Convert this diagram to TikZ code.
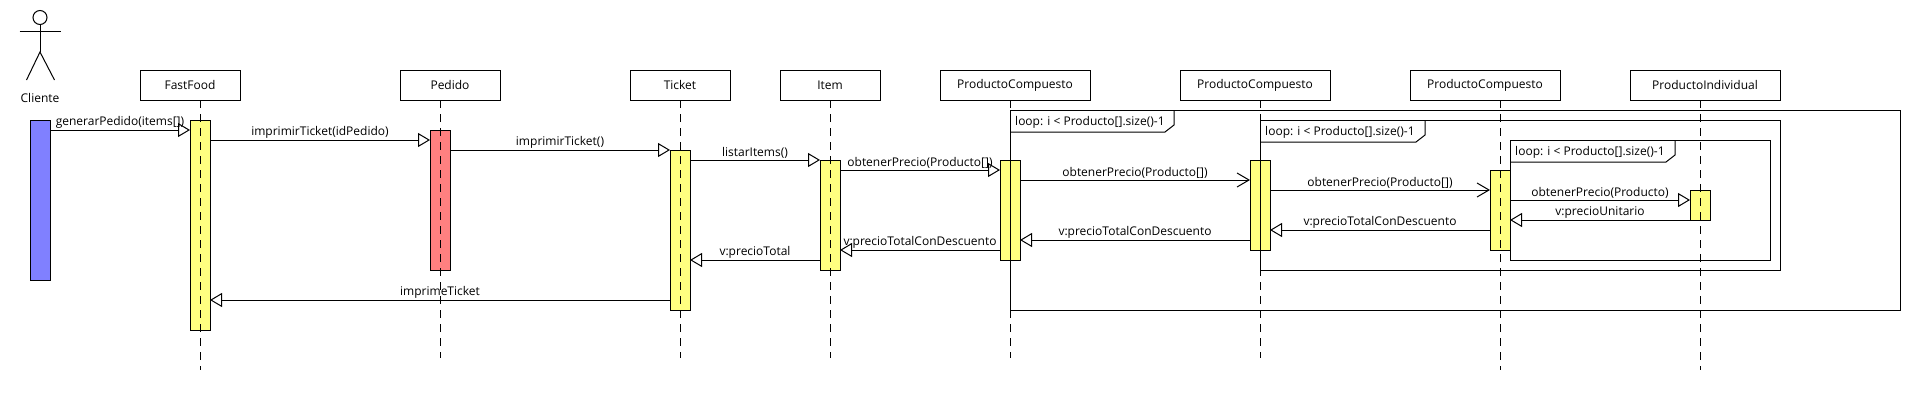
\documentclass[tikz,border=0pt]{standalone}
\usepackage{fontspec}
\setmainfont{Open Sans}
\usetikzlibrary{arrows.meta}
\definecolor{actyellow}{HTML}{FFFF80}
\definecolor{actblue}{HTML}{8080FF}
\definecolor{actred}{HTML}{FF8080}
\tikzset{
  lifebox/.style={draw, line width=1pt, minimum height=30pt, inner sep=0pt, outer sep=0pt, font=\fontsize{12}{14}\selectfont},
  activation/.style={draw, line width=1pt, fill=actyellow, minimum width=20pt, inner sep=0pt, outer sep=0pt, anchor=north},
  lifeline/.style={line width=1pt, dash pattern=on 8pt off 6pt},
  loopframe/.style={draw, line width=1pt, inner sep=0pt, outer sep=0pt},
  looptext/.style={anchor=west, inner sep=0pt, font=\fontsize{12}{14}\selectfont},
  msg/.style={line width=1pt, -{Triangle[open, fill=white, length=12pt, width=14pt]}},
  msgopen/.style={line width=1pt, -{Straight Barb[length=12pt, width=14pt]}},
  msglabel/.style={midway, above, inner sep=0pt, yshift=1.5pt, font=\fontsize{12}{14}\selectfont}
}
\begin{document}
\begin{tikzpicture}[x=1pt,y=-1pt]
    \useasboundingbox (0,0) rectangle (1910,400);

    %actor
    \draw[line width=1pt] (40,17.5) circle [radius=7];
    \draw[line width=1pt] (19.5,31) -- (61,31);
    \draw[line width=1pt] (40,24.5) -- (40,52);
    \draw[line width=1pt] (26.5,80) -- (40,52) -- (54.5,80);
    \node[font=\fontsize{12}{14}\selectfont, inner sep=0pt] (cliente) at (40,98) {Cliente};

    %lifeline heads
    \node[lifebox, minimum width=100pt] (fastfood) at (190,85) {FastFood};
    \node[lifebox, minimum width=100pt] (pedido) at (450,85) {Pedido};
    \node[lifebox, minimum width=100pt] (ticket) at (680,85) {Ticket};
    \node[lifebox, minimum width=100pt] (item) at (830,85) {Item};
    \node[lifebox, minimum width=150pt] (compuestoA) at (1015,85) {ProductoCompuesto};
    \node[lifebox, minimum width=150pt] (compuestoB) at (1255,85) {ProductoCompuesto};
    \node[lifebox, minimum width=150pt] (compuestoC) at (1485,85) {ProductoCompuesto};
    \node[lifebox, minimum width=150pt] (individual) at (1705,85) {ProductoIndividual};

    %activations
    \node[activation, fill=actblue, minimum height=160pt] (actcliente) at (40,120) {};
    \node[activation, minimum height=210pt] (actfastfood) at (200,120) {};
    \node[activation, fill=actred, minimum height=140pt] (actpedido) at (440,130) {};
    \node[activation, minimum height=160pt] (actticket) at (680,150) {};
    \node[activation, minimum height=110pt] (actitem) at (830,160) {};
    \node[activation, minimum height=100pt] (actcompuestoA) at (1010,160) {};
    \node[activation, minimum height=90pt] (actcompuestoB) at (1260,160) {};
    \node[activation, minimum height=80pt] (actcompuestoC) at (1500,170) {};
    \node[activation, minimum height=30pt] (actindividual) at (1700,190) {};

    %lifelines
    \coordinate (endfastfood) at (200,370);
    \coordinate (endpedido) at (440,358);
    \coordinate (endticket) at (680,358);
    \coordinate (enditem) at (830,358);
    \coordinate (endcompuestoA) at (1010,358);
    \coordinate (endcompuestoB) at (1260,358);
    \coordinate (endcompuestoC) at (1500,370);
    \coordinate (endindividual) at (1700,370);
    \draw[lifeline] (actfastfood |- fastfood.south) -- (endfastfood);
    \draw[lifeline] (actpedido |- pedido.south) -- (endpedido);
    \draw[lifeline] (actticket |- ticket.south) -- (endticket);
    \draw[lifeline] (actitem |- item.south) -- (enditem);
    \draw[lifeline] (actcompuestoA |- compuestoA.south) -- (endcompuestoA);
    \draw[lifeline] (actcompuestoB |- compuestoB.south) -- (endcompuestoB);
    \draw[lifeline] (actcompuestoC |- compuestoC.south) -- (endcompuestoC);
    \draw[lifeline] (actindividual |- individual.south) -- (endindividual);

    %loops
    \node[loopframe, anchor=north west, minimum width=890pt, minimum height=200pt] (loopA) at (1010,110) {};
    \draw[line width=1pt] (1174,110) -- (1174,125) -- (1165,132) -- (1010,132);
    \node[looptext] (looptextA) at (1015,122) {loop: i < Producto[].size()-1};

    \node[loopframe, anchor=north west, minimum width=520pt, minimum height=150pt] (loopB) at (1260,120) {};
    \draw[line width=1pt] (1425,120) -- (1425,135) -- (1416,142) -- (1260,142);
    \node[looptext] (looptextB) at (1265,132) {loop: i < Producto[].size()-1};

    \node[loopframe, anchor=north west, minimum width=260pt, minimum height=120pt] (loopC) at (1510,140) {};
    \draw[line width=1pt] (1675,140) -- (1675,155) -- (1666,162) -- (1510,162);
    \node[looptext] (looptextC) at (1515,152) {loop: i < Producto[].size()-1};

    %calls
    \draw[msg] (actcliente.east |- 0,130) -- (actfastfood.west |- 0,130) node[msglabel] (labelgenerar) {generarPedido(items[])};
    \draw[msg] (actfastfood.east |- 0,140) -- (actpedido.west |- 0,140) node[msglabel] (labelimprimirA) {imprimirTicket(idPedido)};
    \draw[msg] (actpedido.east |- 0,150) -- (actticket.west |- 0,150) node[msglabel] (labelimprimirB) {imprimirTicket()};
    \draw[msg] (actticket.east |- 0,160) -- (actitem.west |- 0,160) node[msglabel] (labellistar) {listarItems()};
    \draw[msg] (actitem.east |- 0,170) -- (actcompuestoA.west |- 0,170) node[msglabel] (labelprecioA) {obtenerPrecio(Producto[])};
    \draw[msgopen] (actcompuestoA.east |- 0,180) -- (actcompuestoB.west |- 0,180) node[msglabel] (labelprecioB) {obtenerPrecio(Producto[])};
    \draw[msgopen] (actcompuestoB.east |- 0,190) -- (actcompuestoC.west |- 0,190) node[msglabel] (labelprecioC) {obtenerPrecio(Producto[])};
    \draw[msg] (actcompuestoC.east |- 0,200) -- (actindividual.west |- 0,200) node[msglabel] (labelprecioD) {obtenerPrecio(Producto)};

    %returns
    \draw[msg] (actindividual.west |- 0,220) -- (actcompuestoC.east |- 0,220) node[msglabel] (labelunitario) {v:precioUnitario};
    \draw[msg] (actcompuestoC.west |- 0,230) -- (actcompuestoB.east |- 0,230) node[msglabel] (labeltotalA) {v:precioTotalConDescuento};
    \draw[msg] (actcompuestoB.west |- 0,240) -- (actcompuestoA.east |- 0,240) node[msglabel] (labeltotalB) {v:precioTotalConDescuento};
    \draw[msg] (actcompuestoA.west |- 0,250) -- (actitem.east |- 0,250) node[msglabel] (labeltotalC) {v:precioTotalConDescuento};
    \draw[msg] (actitem.west |- 0,260) -- (actticket.east |- 0,260) node[msglabel] (labeltotal) {v:precioTotal};
    \draw[msg] (actticket.west |- 0,300) -- (actfastfood.east |- 0,300) node[msglabel] (labelimprime) {imprimeTicket};
\end{tikzpicture}
\end{document}
